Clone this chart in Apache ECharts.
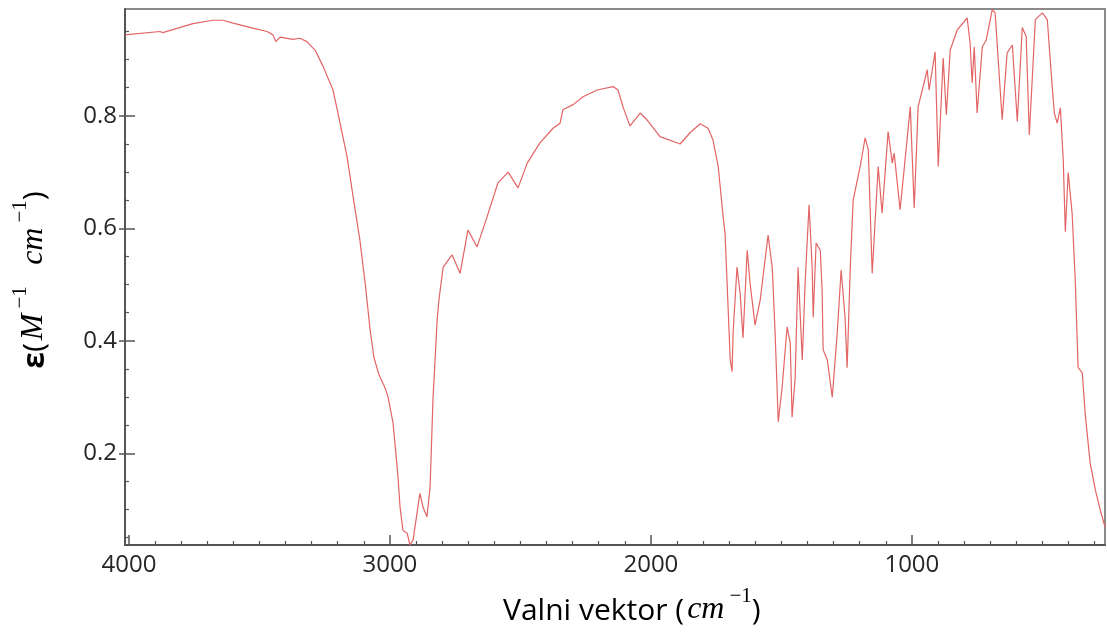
<!DOCTYPE html>
<html>
<head>
<meta charset="utf-8">
<script src="https://cdn.jsdelivr.net/npm/echarts@6/dist/echarts.min.js"></script>
<style>html,body{margin:0;padding:0;background:#fff}#c{width:1107px;height:633px}</style>
</head>
<body>
<div id="c"></div>
<script>
// wavenumber (cm^-1) and epsilon values
const wavenumbers = [4015,4008,3881,3870,3755,3678,3640,3601,3525,3471,3448,3437,3421,3371,3345,3318,3287,3256,3218,3191,3164,3141,3115,3095,3088,3076,3061,3042,3020,3007,2988,2977,2969,2961,2950,2934,2923,2911,2896,2885,2873,2858,2846,2835,2819,2812,2796,2762,2731,2701,2666,2628,2586,2547,2509,2474,2425,2375,2348,2337,2298,2260,2206,2145,2126,2107,2080,2041,2015,1965,1888,1850,1811,1781,1762,1742,1723,1716,1708,1696,1689,1685,1670,1658,1647,1631,1620,1601,1581,1551,1535,1524,1512,1497,1478,1466,1459,1447,1436,1420,1409,1394,1382,1378,1367,1351,1344,1340,1324,1305,1286,1271,1256,1248,1236,1225,1198,1179,1167,1152,1129,1114,1091,1075,1068,1045,1006,991,976,941,934,911,899,880,868,853,826,788,777,769,761,750,730,715,692,681,654,635,615,596,577,562,550,527,500,481,462,454,443,431,420,412,401,386,374,363,347,336,317,297,278,260];
const epsilon = [0.944,0.945,0.950,0.948,0.964,0.970,0.970,0.965,0.956,0.950,0.944,0.932,0.940,0.936,0.938,0.932,0.917,0.888,0.846,0.787,0.727,0.656,0.579,0.503,0.473,0.420,0.370,0.340,0.318,0.300,0.254,0.200,0.158,0.104,0.063,0.058,0.037,0.046,0.094,0.129,0.104,0.087,0.140,0.295,0.437,0.473,0.531,0.553,0.520,0.597,0.567,0.620,0.681,0.700,0.672,0.716,0.752,0.778,0.787,0.811,0.820,0.834,0.846,0.852,0.846,0.816,0.782,0.805,0.793,0.763,0.750,0.770,0.786,0.778,0.757,0.710,0.620,0.592,0.503,0.366,0.345,0.414,0.531,0.485,0.405,0.561,0.503,0.428,0.473,0.588,0.531,0.414,0.256,0.318,0.425,0.396,0.264,0.336,0.531,0.366,0.503,0.642,0.531,0.442,0.574,0.561,0.490,0.384,0.366,0.300,0.414,0.526,0.442,0.352,0.531,0.650,0.710,0.761,0.740,0.520,0.710,0.627,0.772,0.716,0.734,0.633,0.816,0.636,0.816,0.882,0.846,0.914,0.710,0.903,0.802,0.917,0.953,0.974,0.930,0.859,0.923,0.805,0.923,0.935,0.989,0.983,0.793,0.912,0.926,0.790,0.957,0.941,0.766,0.971,0.983,0.971,0.850,0.805,0.787,0.814,0.722,0.594,0.699,0.627,0.508,0.353,0.343,0.271,0.183,0.135,0.099,0.069];
const xTickLabels = [1000, 2000, 3000, 4000];
const yTickLabels = [0.2, 0.4, 0.6, 0.8];
const xMinorTicks = [300,400,500,600,700,800,900,1100,1200,1300,1400,1500,1600,1700,1800,1900,2100,2200,2300,2400,2500,2600,2700,2800,2900,3100,3200,3300,3400,3500,3600,3700,3800,3900];
const yMinorTicks = [0.05,0.1,0.15,0.25,0.3,0.35,0.45,0.5,0.55,0.65,0.7,0.75,0.85,0.9,0.95];

const points = wavenumbers.map((w, i) => [w, epsilon[i]]);
const X_MIN = 260, X_MAX = 4015, Y_MIN = 0.037, Y_MAX = 0.99;
const axisCol = '#555';
const labelFont = {fontFamily: 'Open Sans', fontSize: 24, color: '#262626'};
const titleRich = {
  e: {fontFamily: 'Open Sans', fontWeight: 'bold', fontSize: 30, color: '#262626', lineHeight: 40, verticalAlign: 'bottom'},
  a: {fontFamily: 'Open Sans', fontSize: 30, color: '#262626', lineHeight: 40, verticalAlign: 'bottom'},
  b: {fontFamily: 'Liberation Serif', fontStyle: 'italic', fontSize: 32, color: '#262626', lineHeight: 40, verticalAlign: 'bottom', padding: [0, 3, 0, 3]},
  c: {fontFamily: 'Liberation Serif', fontSize: 21, color: '#262626', lineHeight: 40, verticalAlign: 'top', padding: [0, 0, 0, 2]},
  s: {fontSize: 22, lineHeight: 40}
};

const chart = echarts.init(document.getElementById('c'), null, {renderer: 'canvas'});
chart.setOption({
  animation: false,
  backgroundColor: '#fff',
  grid: {left: 125, right: 2, top: 9, bottom: 88, show: true, borderColor: '#8a8a8a', borderWidth: 2, backgroundColor: 'transparent'},
  xAxis: [
    {type: 'value', inverse: true, min: X_MIN, max: X_MAX,
     axisLine: {show: true, lineStyle: {color: axisCol, width: 2}},
     axisTick: {show: true, inside: true, length: 10, customValues: xTickLabels, lineStyle: {color: axisCol, width: 1.5}},
     axisLabel: {show: true, customValues: xTickLabels, margin: 8, formatter: v => String(v), ...labelFont},
     splitLine: {show: false}},
    {type: 'value', inverse: true, min: X_MIN, max: X_MAX, position: 'bottom',
     axisLine: {show: false},
     axisTick: {show: true, inside: true, length: 4, customValues: xMinorTicks, lineStyle: {color: axisCol, width: 1.2}},
     axisLabel: {show: false}, splitLine: {show: false}}
  ],
  yAxis: [
    {type: 'value', min: Y_MIN, max: Y_MAX,
     axisLine: {show: true, lineStyle: {color: axisCol, width: 2}},
     axisTick: {show: true, inside: true, length: 10, customValues: yTickLabels, lineStyle: {color: axisCol, width: 1.5}},
     axisLabel: {show: true, customValues: yTickLabels, margin: 8, formatter: v => v.toFixed(1), ...labelFont},
     splitLine: {show: false}},
    {type: 'value', min: Y_MIN, max: Y_MAX, position: 'left',
     axisLine: {show: false},
     axisTick: {show: true, inside: false, length: 6, customValues: yTickLabels, lineStyle: {color: axisCol, width: 1.5}},
     axisLabel: {show: false}, splitLine: {show: false}},
    {type: 'value', min: Y_MIN, max: Y_MAX, position: 'left',
     axisLine: {show: false},
     axisTick: {show: true, inside: true, length: 4, customValues: yMinorTicks, lineStyle: {color: axisCol, width: 1.2}},
     axisLabel: {show: false}, splitLine: {show: false}}
  ],
  series: [{
    type: 'line', data: points, xAxisIndex: 0, yAxisIndex: 0,
    showSymbol: false, smooth: false,
    lineStyle: {color: '#e36464', width: 1.2}
  }],
  graphic: [
    {type: 'text', x: 503, y: 586,
     style: {text: '{a|Valni vektor (}{b|cm}{c|−1}{a|)}', rich: titleRich}},
    {type: 'text', x: 30, y: 280, rotation: Math.PI / 2,
     style: {text: '{e|ε}{a|(}{b|M}{c|−1}{s|   }{b|cm}{c|−1}{a|)}', align: 'center', verticalAlign: 'middle', rich: titleRich}}
  ]
});
</script>
</body>
</html>
